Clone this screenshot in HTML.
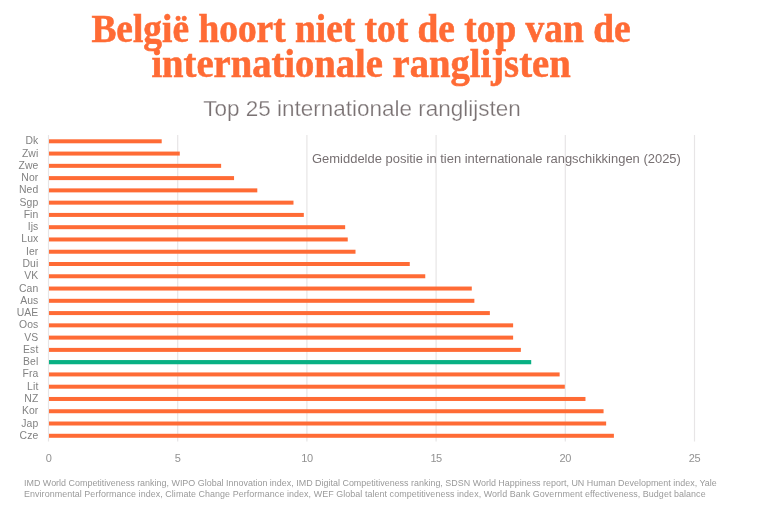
<!DOCTYPE html>
<html lang="nl"><head><meta charset="utf-8"><title>Top 25 internationale ranglijsten</title>
<style>
html,body{margin:0;padding:0;background:#fff;}
body{width:758px;height:508px;position:relative;overflow:hidden;font-family:"Liberation Sans",sans-serif;}
.abs{position:absolute;white-space:nowrap;}
.t{position:absolute;margin:0;left:0;width:722px;text-align:center;font-family:"Liberation Serif",serif;font-weight:bold;color:#ff6b35;font-size:40px;line-height:40px;white-space:nowrap;transform-origin:361px 0;-webkit-text-stroke:0.6px #ff6b35;}
.t1{top:9px;transform:scaleX(0.935);}
.t2{top:44px;transform:scaleX(0.965);}
.sub{left:0.9px;width:722px;top:97px;text-align:center;font-size:21.5px;line-height:24px;transform:scaleX(1.046);transform-origin:361px 0;color:#7a7273;-webkit-text-stroke:0.25px #fff;}
svg{position:absolute;left:0;top:0;}
.lab{position:absolute;left:0;width:38.4px;text-align:right;font-size:10.4px;letter-spacing:0.1px;line-height:12px;color:#828282;}
.tick{position:absolute;width:40px;text-align:center;font-size:11px;line-height:12px;color:#929292;top:451.7px;letter-spacing:-0.4px;}
.note{left:311.5px;top:151.8px;font-size:12px;transform:scaleX(1.08);transform-origin:0 0;line-height:14px;color:#777072;}
.foot{left:24px;font-size:8.94px;line-height:11.5px;color:#9a9a9a;}
.f1{top:477.6px;letter-spacing:0.01px;}
.f2{top:489.1px;letter-spacing:0.06px;}
#w{position:absolute;left:0;top:0;width:758px;height:508px;will-change:transform;}
</style></head><body><div id="w">
<div class="t t1">België hoort niet tot de top van de</div><div class="t t2">internationale ranglijsten</div>
<div class="abs sub">Top 25 internationale ranglijsten</div>
<svg width="758" height="508" viewBox="0 0 758 508">
<rect x="47.90" y="135.0" width="1.2" height="306.5" fill="#e7e5e6"/>
<rect x="177.10" y="135.0" width="1.2" height="306.5" fill="#e7e5e6"/>
<rect x="306.30" y="135.0" width="1.2" height="306.5" fill="#e7e5e6"/>
<rect x="435.50" y="135.0" width="1.2" height="306.5" fill="#e7e5e6"/>
<rect x="564.70" y="135.0" width="1.2" height="306.5" fill="#e7e5e6"/>
<rect x="693.90" y="135.0" width="1.2" height="306.5" fill="#e7e5e6"/>
<rect x="49.00" y="139.30" width="112.70" height="4.0" fill="#ff6b35"/>
<rect x="49.00" y="151.57" width="130.78" height="4.0" fill="#ff6b35"/>
<rect x="49.00" y="163.84" width="172.13" height="4.0" fill="#ff6b35"/>
<rect x="49.00" y="176.11" width="185.05" height="4.0" fill="#ff6b35"/>
<rect x="49.00" y="188.38" width="208.30" height="4.0" fill="#ff6b35"/>
<rect x="49.00" y="200.65" width="244.48" height="4.0" fill="#ff6b35"/>
<rect x="49.00" y="212.92" width="254.82" height="4.0" fill="#ff6b35"/>
<rect x="49.00" y="225.19" width="296.16" height="4.0" fill="#ff6b35"/>
<rect x="49.00" y="237.46" width="298.74" height="4.0" fill="#ff6b35"/>
<rect x="49.00" y="249.73" width="306.50" height="4.0" fill="#ff6b35"/>
<rect x="49.00" y="262.00" width="360.76" height="4.0" fill="#ff6b35"/>
<rect x="49.00" y="274.27" width="376.26" height="4.0" fill="#ff6b35"/>
<rect x="49.00" y="286.54" width="422.78" height="4.0" fill="#ff6b35"/>
<rect x="49.00" y="298.81" width="425.36" height="4.0" fill="#ff6b35"/>
<rect x="49.00" y="311.08" width="440.86" height="4.0" fill="#ff6b35"/>
<rect x="49.00" y="323.35" width="464.12" height="4.0" fill="#ff6b35"/>
<rect x="49.00" y="335.62" width="464.12" height="4.0" fill="#ff6b35"/>
<rect x="49.00" y="347.89" width="471.87" height="4.0" fill="#ff6b35"/>
<rect x="49.00" y="360.06" width="482.21" height="4.2" fill="#08b083"/>
<rect x="49.00" y="372.43" width="510.63" height="4.0" fill="#ff6b35"/>
<rect x="49.00" y="384.70" width="515.80" height="4.0" fill="#ff6b35"/>
<rect x="49.00" y="396.97" width="536.47" height="4.0" fill="#ff6b35"/>
<rect x="49.00" y="409.24" width="554.56" height="4.0" fill="#ff6b35"/>
<rect x="49.00" y="421.51" width="557.14" height="4.0" fill="#ff6b35"/>
<rect x="49.00" y="433.78" width="564.90" height="4.0" fill="#ff6b35"/>
</svg>
<div class="lab" style="top:135.30px">Dk</div>
<div class="lab" style="top:147.57px">Zwi</div>
<div class="lab" style="top:159.84px">Zwe</div>
<div class="lab" style="top:172.11px">Nor</div>
<div class="lab" style="top:184.38px">Ned</div>
<div class="lab" style="top:196.65px">Sgp</div>
<div class="lab" style="top:208.92px">Fin</div>
<div class="lab" style="top:221.19px">Ijs</div>
<div class="lab" style="top:233.46px">Lux</div>
<div class="lab" style="top:245.73px">Ier</div>
<div class="lab" style="top:258.00px">Dui</div>
<div class="lab" style="top:270.27px">VK</div>
<div class="lab" style="top:282.54px">Can</div>
<div class="lab" style="top:294.81px">Aus</div>
<div class="lab" style="top:307.08px">UAE</div>
<div class="lab" style="top:319.35px">Oos</div>
<div class="lab" style="top:331.62px">VS</div>
<div class="lab" style="top:343.89px">Est</div>
<div class="lab" style="top:356.16px">Bel</div>
<div class="lab" style="top:368.43px">Fra</div>
<div class="lab" style="top:380.70px">Lit</div>
<div class="lab" style="top:392.97px">NZ</div>
<div class="lab" style="top:405.24px">Kor</div>
<div class="lab" style="top:417.51px">Jap</div>
<div class="lab" style="top:429.78px">Cze</div>
<div class="tick" style="left:28.5px">0</div>
<div class="tick" style="left:157.7px">5</div>
<div class="tick" style="left:286.9px">10</div>
<div class="tick" style="left:416.1px">15</div>
<div class="tick" style="left:545.3px">20</div>
<div class="tick" style="left:674.5px">25</div>
<div class="abs note">Gemiddelde positie in tien internationale rangschikkingen (2025)</div>
<div class="abs foot f1">IMD World Competitiveness ranking, WIPO Global Innovation index, IMD Digital Competitiveness ranking, SDSN World Happiness report, UN Human Development index, Yale</div>
<div class="abs foot f2">Environmental Performance index, Climate Change Performance index, WEF Global talent competitiveness index, World Bank Government effectiveness, Budget balance</div>
</div></body></html>
